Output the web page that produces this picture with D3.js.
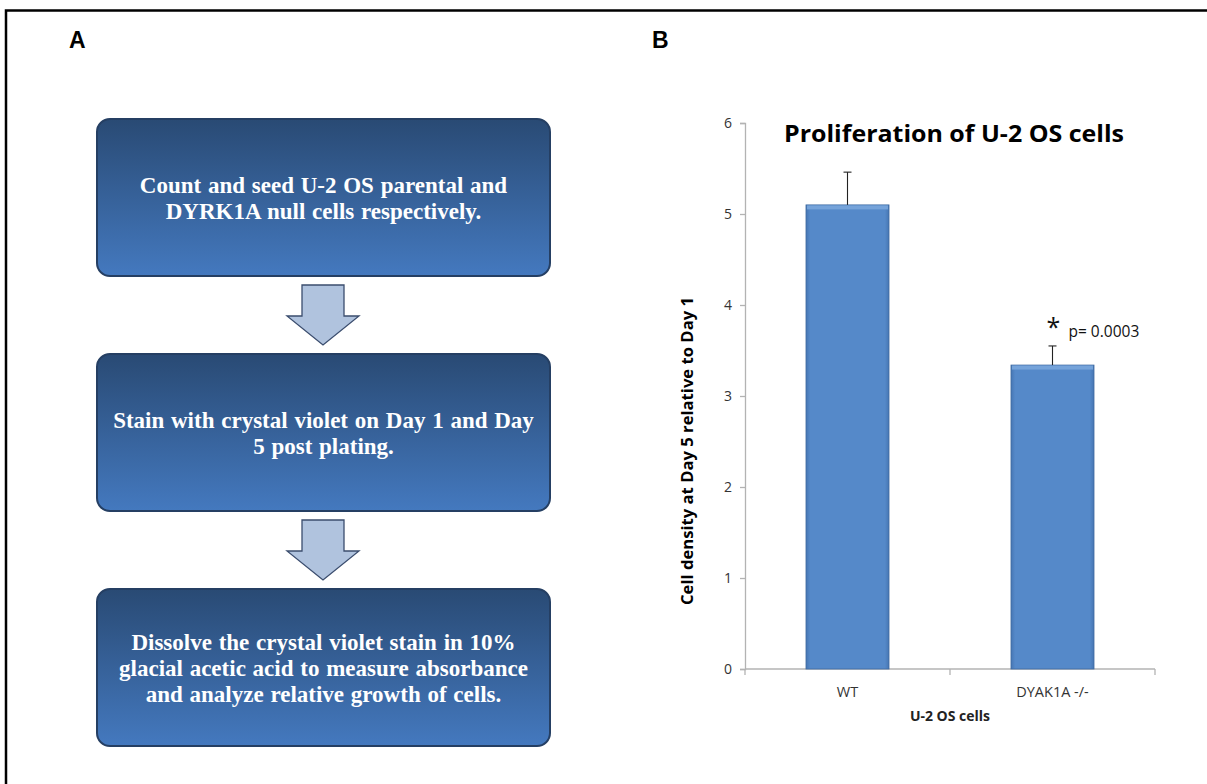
<!DOCTYPE html>
<html>
<head>
<meta charset="utf-8">
<script src="https://cdn.jsdelivr.net/npm/d3@7"></script>
<style>
  html, body { margin: 0; padding: 0; background: #fff; }
  svg { display: block; }
</style>
</head>
<body>
<div id="figure"></div>
<script>
// Panel A: protocol steps (one entry per box, lines pre-broken as in the figure)
const steps = [
  ["Count and seed U-2 OS parental and", "DYRK1A null cells respectively."],
  ["Stain with crystal violet on Day 1 and Day", "5 post plating."],
  ["Dissolve the crystal violet stain in 10%", "glacial acetic acid to measure absorbance", "and analyze relative growth of cells."]
];

// Panel B: bar chart data
const groups = ["WT", "DYAK1A -/-"];
const means = [5.10, 3.34];
const errors = [0.36, 0.21];
const yTicks = [0, 1, 2, 3, 4, 5, 6];
const chartTitle = "Proliferation of U-2 OS cells";
const yTitle = "Cell density at Day 5 relative to Day 1";
const xTitle = "U-2 OS cells";
const sigMark = "*";
const sigText = "p= 0.0003";

const width = 1207, height = 784;
const svg = d3.select("#figure").append("svg").attr("width", width).attr("height", height);
const defs = svg.append("defs");

// Outer frame (bottom/right run off the image)
svg.append("path")
  .attr("d", `M6,${height + 5} V10.5 H${width + 5}`)
  .attr("fill", "none").attr("stroke", "#000").attr("stroke-width", 2.5);

// Panel letters
svg.selectAll("text.panel").data([["A", 69], ["B", 652]]).enter().append("text")
  .attr("class", "panel")
  .attr("x", (d) => d[1]).attr("y", 48)
  .attr("font-family", "Liberation Sans, Arial, sans-serif")
  .attr("font-weight", "bold").attr("font-size", 23)
  .text((d) => d[0]);

// ---------- Panel A: flowchart ----------
const boxGrad = defs.append("linearGradient").attr("id", "boxGrad")
  .attr("x1", 0).attr("y1", 0).attr("x2", 0).attr("y2", 1);
boxGrad.append("stop").attr("offset", "0%").attr("stop-color", "#294a74");
boxGrad.append("stop").attr("offset", "100%").attr("stop-color", "#4479bf");

const box = { x: 97, w: 453, h: 157, r: 13 };
const boxY = d3.scaleLinear().domain([0, steps.length - 1]).range([119, 589]);
const lineH = 26;

const flow = svg.append("g").attr("class", "flow");
const boxes = flow.selectAll("g.step").data(steps).enter().append("g").attr("class", "step");

boxes.append("rect")
  .attr("x", box.x).attr("y", (d, i) => boxY(i))
  .attr("width", box.w).attr("height", box.h)
  .attr("rx", box.r).attr("ry", box.r)
  .attr("fill", "url(#boxGrad)")
  .attr("stroke", "#253f63").attr("stroke-width", 2);

boxes.each(function (lines, i) {
  const cy = boxY(i) + box.h / 2;
  d3.select(this).selectAll("text").data(lines).enter().append("text")
    .attr("x", box.x + box.w / 2)
    .attr("y", (d, j) => cy + (j - (lines.length - 1) / 2) * lineH + 8.5)
    .attr("text-anchor", "middle")
    .attr("fill", "#fff")
    .attr("font-family", "Liberation Serif, 'Times New Roman', serif")
    .attr("font-weight", "bold").attr("font-size", 23)
    .attr("word-spacing", 1)
    .text((d) => d);
});

// Down arrows between boxes
const cxA = box.x + box.w / 2 - 0.5;
const arrowPath = (top) => {
  const bot = top + 60, headY = top + 31, sw = 21, hw = 36;
  return `M${cxA - sw},${top} H${cxA + sw} V${headY} H${cxA + hw} L${cxA},${bot} L${cxA - hw},${headY} H${cxA - sw} Z`;
};
flow.selectAll("path.arrow").data(d3.range(steps.length - 1)).enter().append("path")
  .attr("class", "arrow")
  .attr("d", (i) => arrowPath(boxY(i) + box.h + 9))
  .attr("fill", "#b0c3de").attr("stroke", "#3b4d6e").attr("stroke-width", 1.3)
  .attr("stroke-linejoin", "miter");

// ---------- Panel B: bar chart ----------
const plot = { left: 745, right: 1155, top: 123, bottom: 669 };
const x = d3.scaleBand().domain(groups).range([plot.left, plot.right]).paddingInner(0).paddingOuter(0);
const y = d3.scaleLinear().domain([0, 6]).range([plot.bottom, plot.top]);
const barW = x.bandwidth() * 0.405;

const chart = svg.append("g").attr("class", "chart");
const sans = "'Open Sans', 'Noto Sans', sans-serif";

// Y axis
const yAxis = d3.axisLeft(y).tickValues(yTicks).tickSize(5).tickPadding(8).tickFormat(d3.format("d"));
const yG = chart.append("g").attr("transform", `translate(${plot.left},0)`).call(yAxis);
yG.select(".domain").attr("stroke", "#b3b3b3").attr("stroke-width", 1.3);
yG.selectAll(".tick line").attr("stroke", "#b3b3b3").attr("stroke-width", 1.3);
yG.selectAll(".tick text").attr("font-family", sans).attr("font-size", 14).attr("fill", "#333");

// X axis with boundary ticks
const xAxisG = chart.append("g").attr("transform", `translate(0,${plot.bottom})`);
xAxisG.append("line").attr("x1", plot.left).attr("x2", plot.right)
  .attr("stroke", "#b3b3b3").attr("stroke-width", 1.3);
const xEdges = groups.map((g) => x(g)).concat([x(groups[groups.length - 1]) + x.bandwidth()]);
xAxisG.selectAll("line.tk").data(xEdges).enter().append("line").attr("class", "tk")
  .attr("x1", (d) => d).attr("x2", (d) => d).attr("y1", 0).attr("y2", 6)
  .attr("stroke", "#b3b3b3").attr("stroke-width", 1.3);
xAxisG.selectAll("text").data(groups).enter().append("text")
  .attr("x", (d) => x(d) + x.bandwidth() / 2).attr("y", 28)
  .attr("text-anchor", "middle")
  .attr("font-family", sans).attr("font-size", 14.5).attr("fill", "#333")
  .text((d) => d);

// Bars with a soft bevel look
const barGrad = defs.append("linearGradient").attr("id", "barGrad")
  .attr("x1", 0).attr("y1", 0).attr("x2", 1).attr("y2", 0);
barGrad.append("stop").attr("offset", "0%").attr("stop-color", "#4676b3");
barGrad.append("stop").attr("offset", "5%").attr("stop-color", "#5589c9");
barGrad.append("stop").attr("offset", "95%").attr("stop-color", "#5589c9");
barGrad.append("stop").attr("offset", "100%").attr("stop-color", "#4676b3");

const bars = chart.selectAll("g.bar").data(groups).enter().append("g").attr("class", "bar");
bars.append("rect")
  .attr("x", (d) => x(d) + (x.bandwidth() - barW) / 2)
  .attr("y", (d, i) => y(means[i]))
  .attr("width", barW)
  .attr("height", (d, i) => y(0) - y(means[i]))
  .attr("fill", "url(#barGrad)")
  .attr("stroke", "#3f6aa0").attr("stroke-width", 0.8);
bars.append("rect")
  .attr("x", (d) => x(d) + (x.bandwidth() - barW) / 2 + 1)
  .attr("y", (d, i) => y(means[i]) + 0.5)
  .attr("width", barW - 2).attr("height", 4)
  .attr("fill", "#79a6dc").attr("opacity", 0.9);

// Error bars (upper only)
const errG = chart.selectAll("g.err").data(groups).enter().append("g").attr("class", "err")
  .attr("stroke", "#222").attr("stroke-width", 1.1);
errG.append("line")
  .attr("x1", (d) => x(d) + x.bandwidth() / 2).attr("x2", (d) => x(d) + x.bandwidth() / 2)
  .attr("y1", (d, i) => y(means[i])).attr("y2", (d, i) => y(means[i] + errors[i]));
errG.append("line")
  .attr("x1", (d) => x(d) + x.bandwidth() / 2 - 4).attr("x2", (d) => x(d) + x.bandwidth() / 2 + 4)
  .attr("y1", (d, i) => y(means[i] + errors[i])).attr("y2", (d, i) => y(means[i] + errors[i]));

// Significance annotation on the second group
const sigX = x(groups[1]) + x.bandwidth() / 2;
const sigY = y(means[1] + errors[1]);
chart.append("text")
  .attr("x", sigX + 1).attr("y", sigY - 10)
  .attr("text-anchor", "middle")
  .attr("font-family", sans).attr("font-size", 25).attr("fill", "#111")
  .text(sigMark);
chart.append("text")
  .attr("x", sigX + 16).attr("y", sigY - 9)
  .attr("font-family", sans).attr("font-size", 15.5).attr("fill", "#111")
  .text(sigText);

// Titles
chart.append("text")
  .attr("x", 954).attr("y", 142)
  .attr("text-anchor", "middle")
  .attr("font-family", sans).attr("font-weight", "bold").attr("font-size", 23)
  .attr("textLength", 340).attr("lengthAdjust", "spacingAndGlyphs")
  .text(chartTitle);

chart.append("text")
  .attr("transform", `translate(693,${(plot.top + plot.bottom) / 2 + 55}) rotate(-90)`)
  .attr("text-anchor", "middle")
  .attr("font-family", sans).attr("font-weight", "bold").attr("font-size", 15.5)
  .attr("textLength", 308).attr("lengthAdjust", "spacingAndGlyphs")
  .text(yTitle);

chart.append("text")
  .attr("x", (plot.left + plot.right) / 2).attr("y", 721)
  .attr("text-anchor", "middle")
  .attr("font-family", sans).attr("font-weight", "bold").attr("font-size", 14)
  .attr("fill", "#222")
  .text(xTitle);
</script>
</body>
</html>
